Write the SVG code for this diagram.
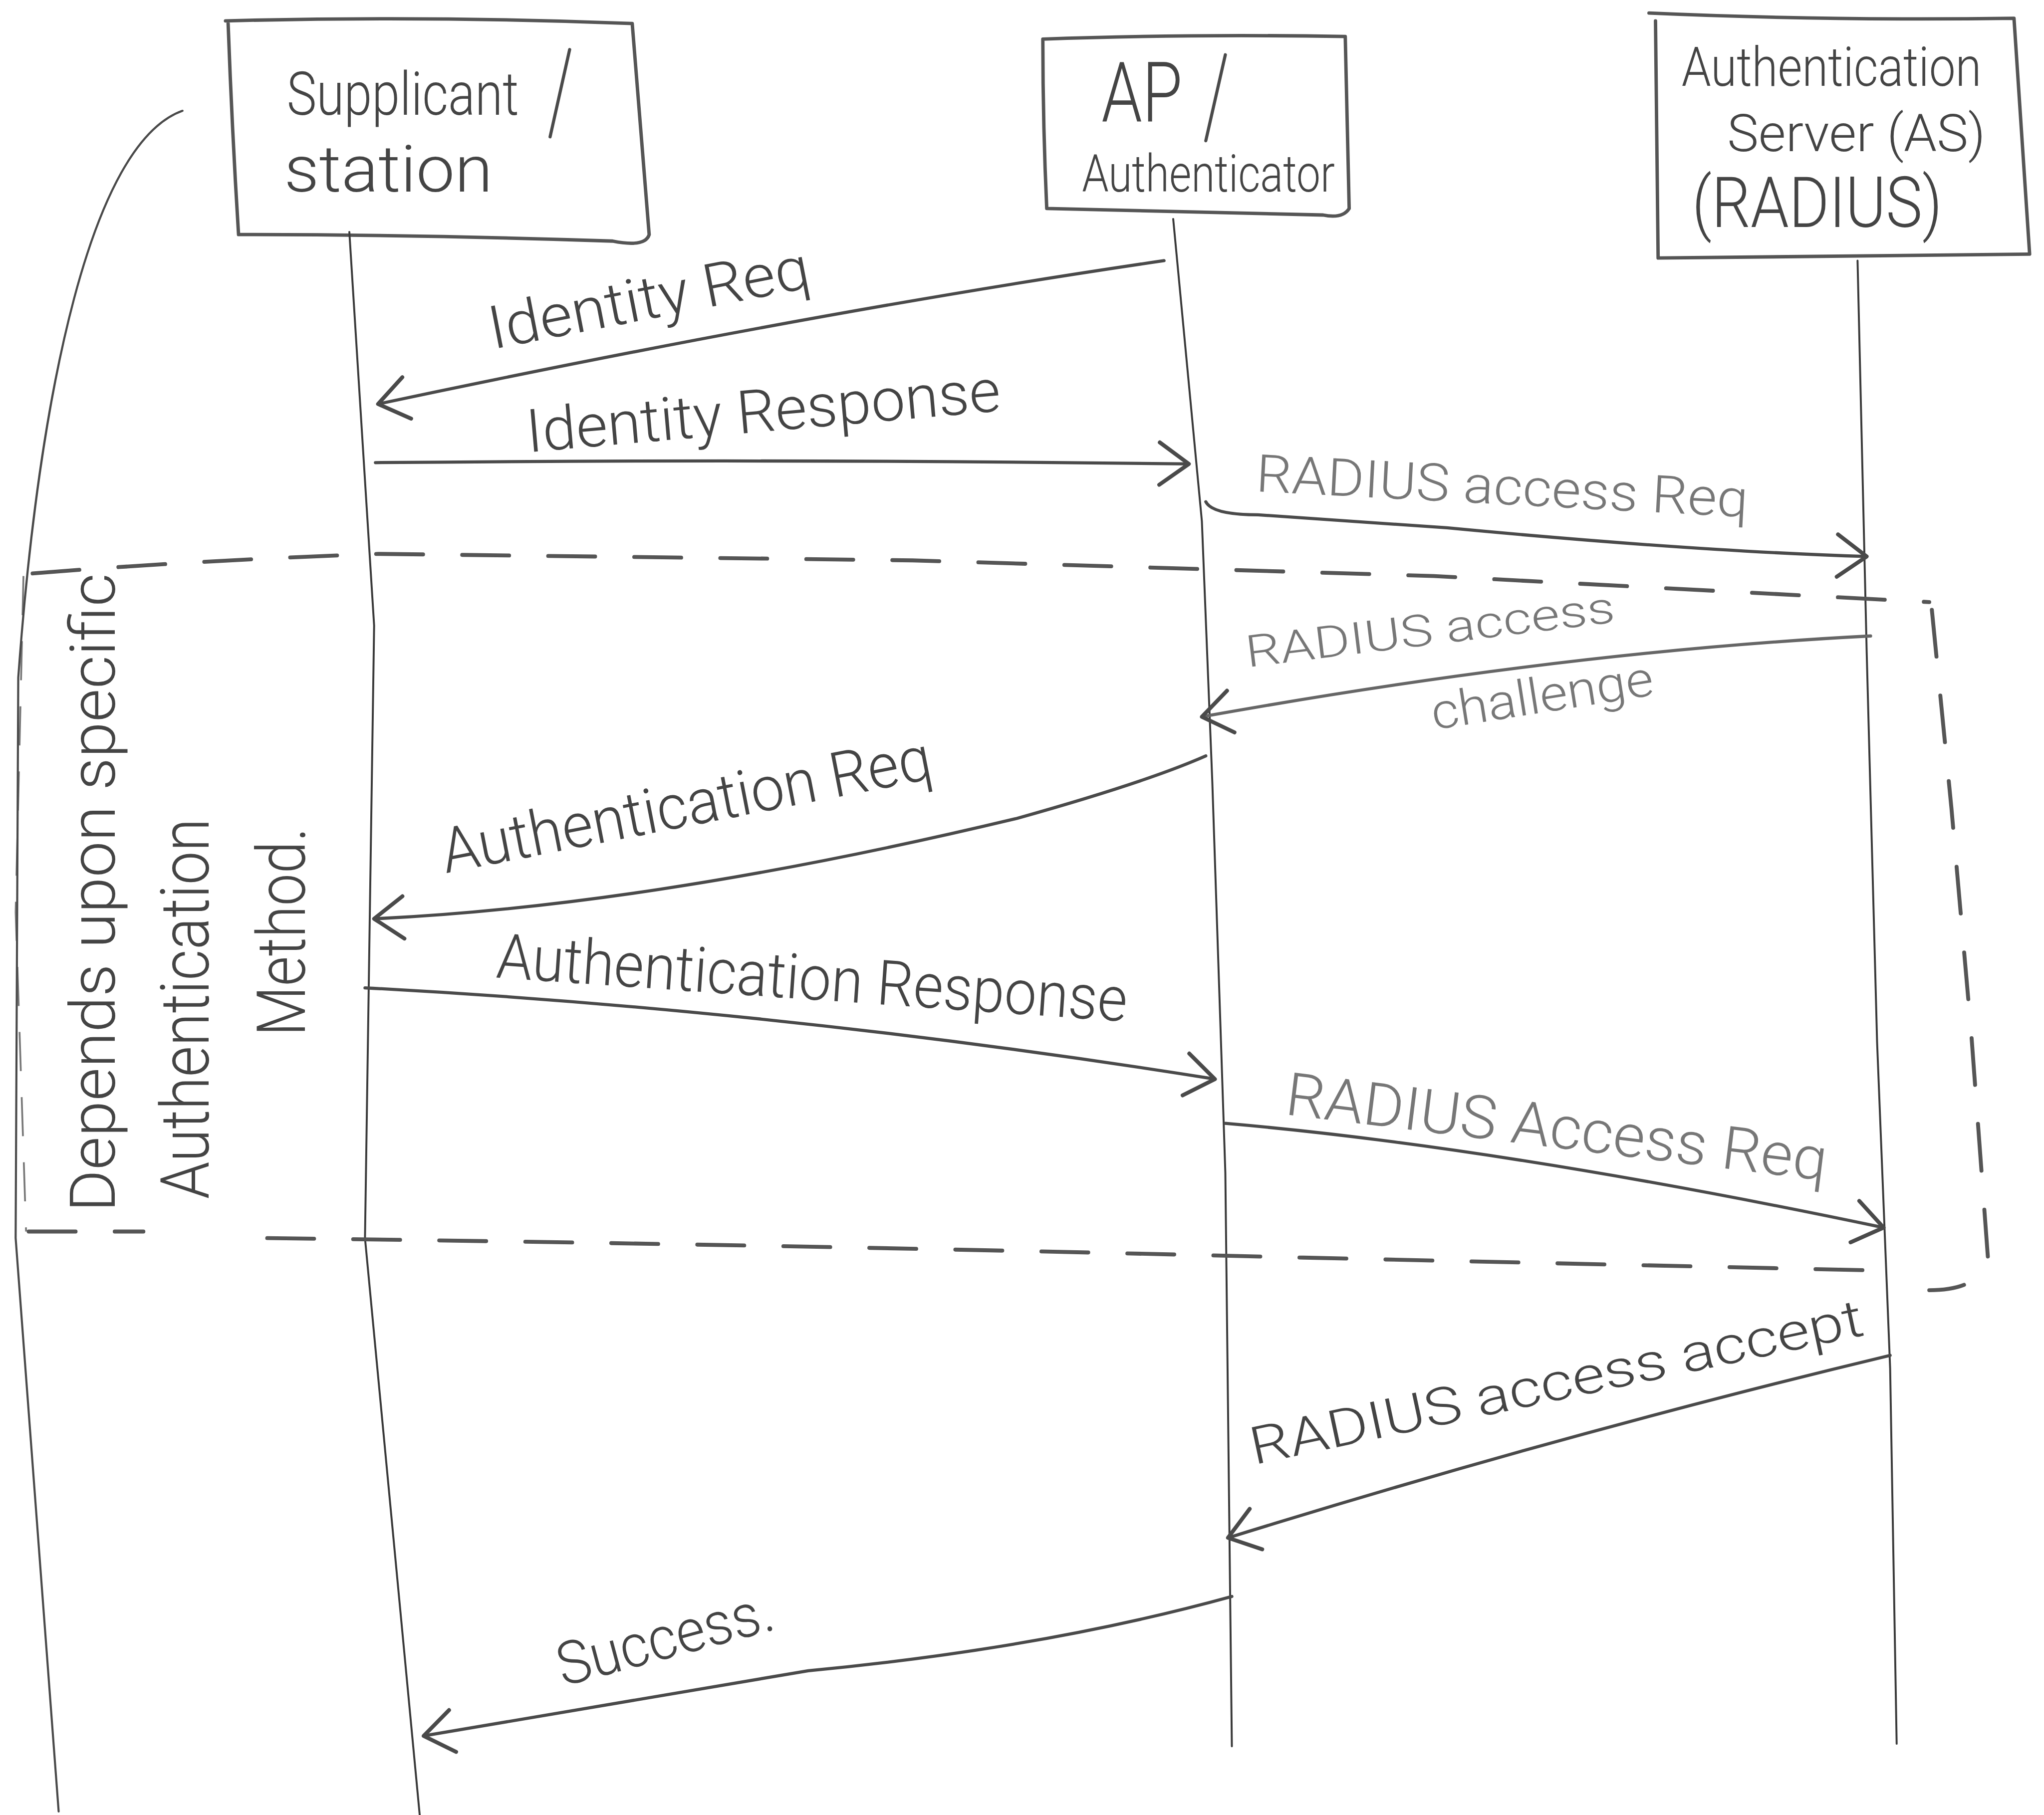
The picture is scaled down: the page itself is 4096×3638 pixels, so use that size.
<svg xmlns="http://www.w3.org/2000/svg" width="4096" height="3638" viewBox="0 0 4096 3638">
<style>
.ln{fill:none;stroke:#4a4a4a;stroke-width:2.4;stroke-linecap:round;stroke-linejoin:round}
.life{fill:none;stroke:#3a3a3a;stroke-width:1.5;stroke-linecap:round}
.box{fill:none;stroke:#555;stroke-width:2.6;stroke-linecap:round;stroke-linejoin:round}
.dash{fill:none;stroke:#555;stroke-width:3;stroke-dasharray:36 30;stroke-linecap:round}
.t{font-family:Roboto,"Liberation Sans","DejaVu Sans",sans-serif;font-weight:300;fill:#444}
.lt{font-family:Roboto,"Liberation Sans","DejaVu Sans",sans-serif;font-weight:300;fill:#777}
</style>
<defs>
<marker id="ah" markerUnits="userSpaceOnUse" markerWidth="40" markerHeight="40" viewBox="-22 -16 26 32" refX="0" refY="0" orient="auto">
<path d="M-18,-13 L0,0 L-18,13" fill="none" stroke="#4a4a4a" stroke-width="2.4" stroke-linecap="round" stroke-linejoin="round"/>
</marker>
</defs>
<rect width="4096" height="3638" fill="#ffffff"/>
<g transform="scale(2.6122)">
<g id="supplicant">
<path class="box" d="M173,16 Q330,12 485,18 L498,180 Q495,190 470,185 Q320,180 183,180 Q178,100 175,18"/>
<text class="t" x="220" y="88" font-size="46" textLength="178" lengthAdjust="spacingAndGlyphs">Supplicant</text>
<path class="ln" d="M437,38 L422,105"/>
<text class="t" x="218" y="147" font-size="50" textLength="160" lengthAdjust="spacingAndGlyphs">station</text>
</g>
<g id="ap">
<path class="box" d="M800,30 Q910,26 1032,28 L1035,160 Q1030,168 1015,165 L803,160 Q800,95 800,30"/>
<text class="t" x="845" y="93" font-size="64" textLength="62" lengthAdjust="spacingAndGlyphs">AP</text>
<path class="ln" d="M940,42 L925,108"/>
<text class="t" x="830" y="147" font-size="40" textLength="194" lengthAdjust="spacingAndGlyphs">Authenticator</text>
</g>
<g id="as">
<path class="box" d="M1265,10 Q1400,16 1545,14 L1557,195 L1272,198 L1270,16"/>
<text class="t" x="1290" y="66" font-size="42" textLength="230" lengthAdjust="spacingAndGlyphs">Authentication</text>
<text class="t" x="1325" y="116" font-size="40" textLength="198" lengthAdjust="spacingAndGlyphs">Server (AS)</text>
<text class="t" x="1298" y="174" font-size="54" textLength="192" lengthAdjust="spacingAndGlyphs">(RADIUS)</text>
</g>
<g id="lifelines">
<path class="life" d="M268,178 L287,480 L280,950 L322,1393"/>
<path class="life" d="M900,168 L922,400 L930,600 L940,900 L945,1340"/>
<path class="life" d="M1425,200 L1432,500 L1440,800 L1450,1050 L1455,1338"/>
</g>
<g id="region">
<path class="dash" d="M25,440 Q150,430 290,425 L700,430 L1100,442 L1480,462"/>
<path class="dash" d="M1482,468 L1497,620 L1512,790 L1525,965 Q1520,990 1480,990"/>
<path class="dash" d="M22,945 L110,945 M205,950 Q600,955 1000,965 L1445,975"/>
<path d="M18,442 L12,700 L20,945" fill="none" stroke="#777" stroke-width="1.4" stroke-dasharray="30 20"/>
<path class="ln" d="M140,85 C70,110 30,300 14,520 L12,950 L45,1390" style="stroke-width:1.6"/>
<text class="t" transform="translate(88,930) rotate(-90)" font-size="48" textLength="490" lengthAdjust="spacingAndGlyphs">Depends upon specific</text>
<text class="t" transform="translate(160,920) rotate(-90)" font-size="52" textLength="292" lengthAdjust="spacingAndGlyphs">Authentication</text>
<text class="t" transform="translate(234,795) rotate(-90)" font-size="52" textLength="160" lengthAdjust="spacingAndGlyphs">Method.</text>
</g>
<g id="connectors">
<path class="ln" marker-end="url(#ah)" d="M893,200 Q620,240 290,310"/>
<path class="ln" marker-end="url(#ah)" d="M288,355 Q600,352 912,356"/>
<path class="ln" marker-end="url(#ah)" d="M925,385 Q930,395 965,395 L1110,405 Q1300,423 1432,427"/>
<path class="ln" marker-end="url(#ah)" style="stroke:#666" d="M1435,488 Q1200,500 922,550"/>
<path class="ln" marker-end="url(#ah)" d="M925,580 Q880,600 780,628 Q500,695 287,705"/>
<path class="ln" marker-end="url(#ah)" d="M280,758 Q600,775 932,828"/>
<path class="ln" marker-end="url(#ah)" d="M940,862 Q1150,880 1445,942"/>
<path class="ln" marker-end="url(#ah)" d="M1450,1040 Q1200,1100 942,1180"/>
<path class="ln" marker-end="url(#ah)" d="M945,1225 Q800,1265 620,1282 L325,1332"/>
</g>
<g id="labels">
<text class="t" transform="translate(378,268) rotate(-11)" font-size="46" textLength="250" lengthAdjust="spacingAndGlyphs">Identity Req</text>
<text class="t" transform="translate(405,347) rotate(-5)" font-size="46" textLength="365" lengthAdjust="spacingAndGlyphs">Identity Response</text>
<text class="lt" transform="translate(963,377) rotate(3)" font-size="40" textLength="378" lengthAdjust="spacingAndGlyphs">RADIUS access Req</text>
<text class="lt" transform="translate(957,512) rotate(-7)" font-size="34" textLength="285" lengthAdjust="spacingAndGlyphs">RADIUS access</text>
<text class="lt" transform="translate(1100,560) rotate(-9)" font-size="38" textLength="172" lengthAdjust="spacingAndGlyphs">challenge</text>
<text class="t" transform="translate(342,670) rotate(-11)" font-size="48" textLength="382" lengthAdjust="spacingAndGlyphs">Authentication Req</text>
<text class="t" transform="translate(380,750) rotate(4)" font-size="48" textLength="485" lengthAdjust="spacingAndGlyphs">Authentication Response</text>
<text class="lt" transform="translate(985,855) rotate(7)" font-size="46" textLength="418" lengthAdjust="spacingAndGlyphs">RADIUS Access Req</text>
<text class="t" transform="translate(962,1124) rotate(-12)" font-size="40" textLength="480" lengthAdjust="spacingAndGlyphs">RADIUS access accept</text>
<text class="t" transform="translate(432,1294) rotate(-15)" font-size="46" textLength="170" lengthAdjust="spacingAndGlyphs">Success.</text>
</g>
</g>
</svg>
